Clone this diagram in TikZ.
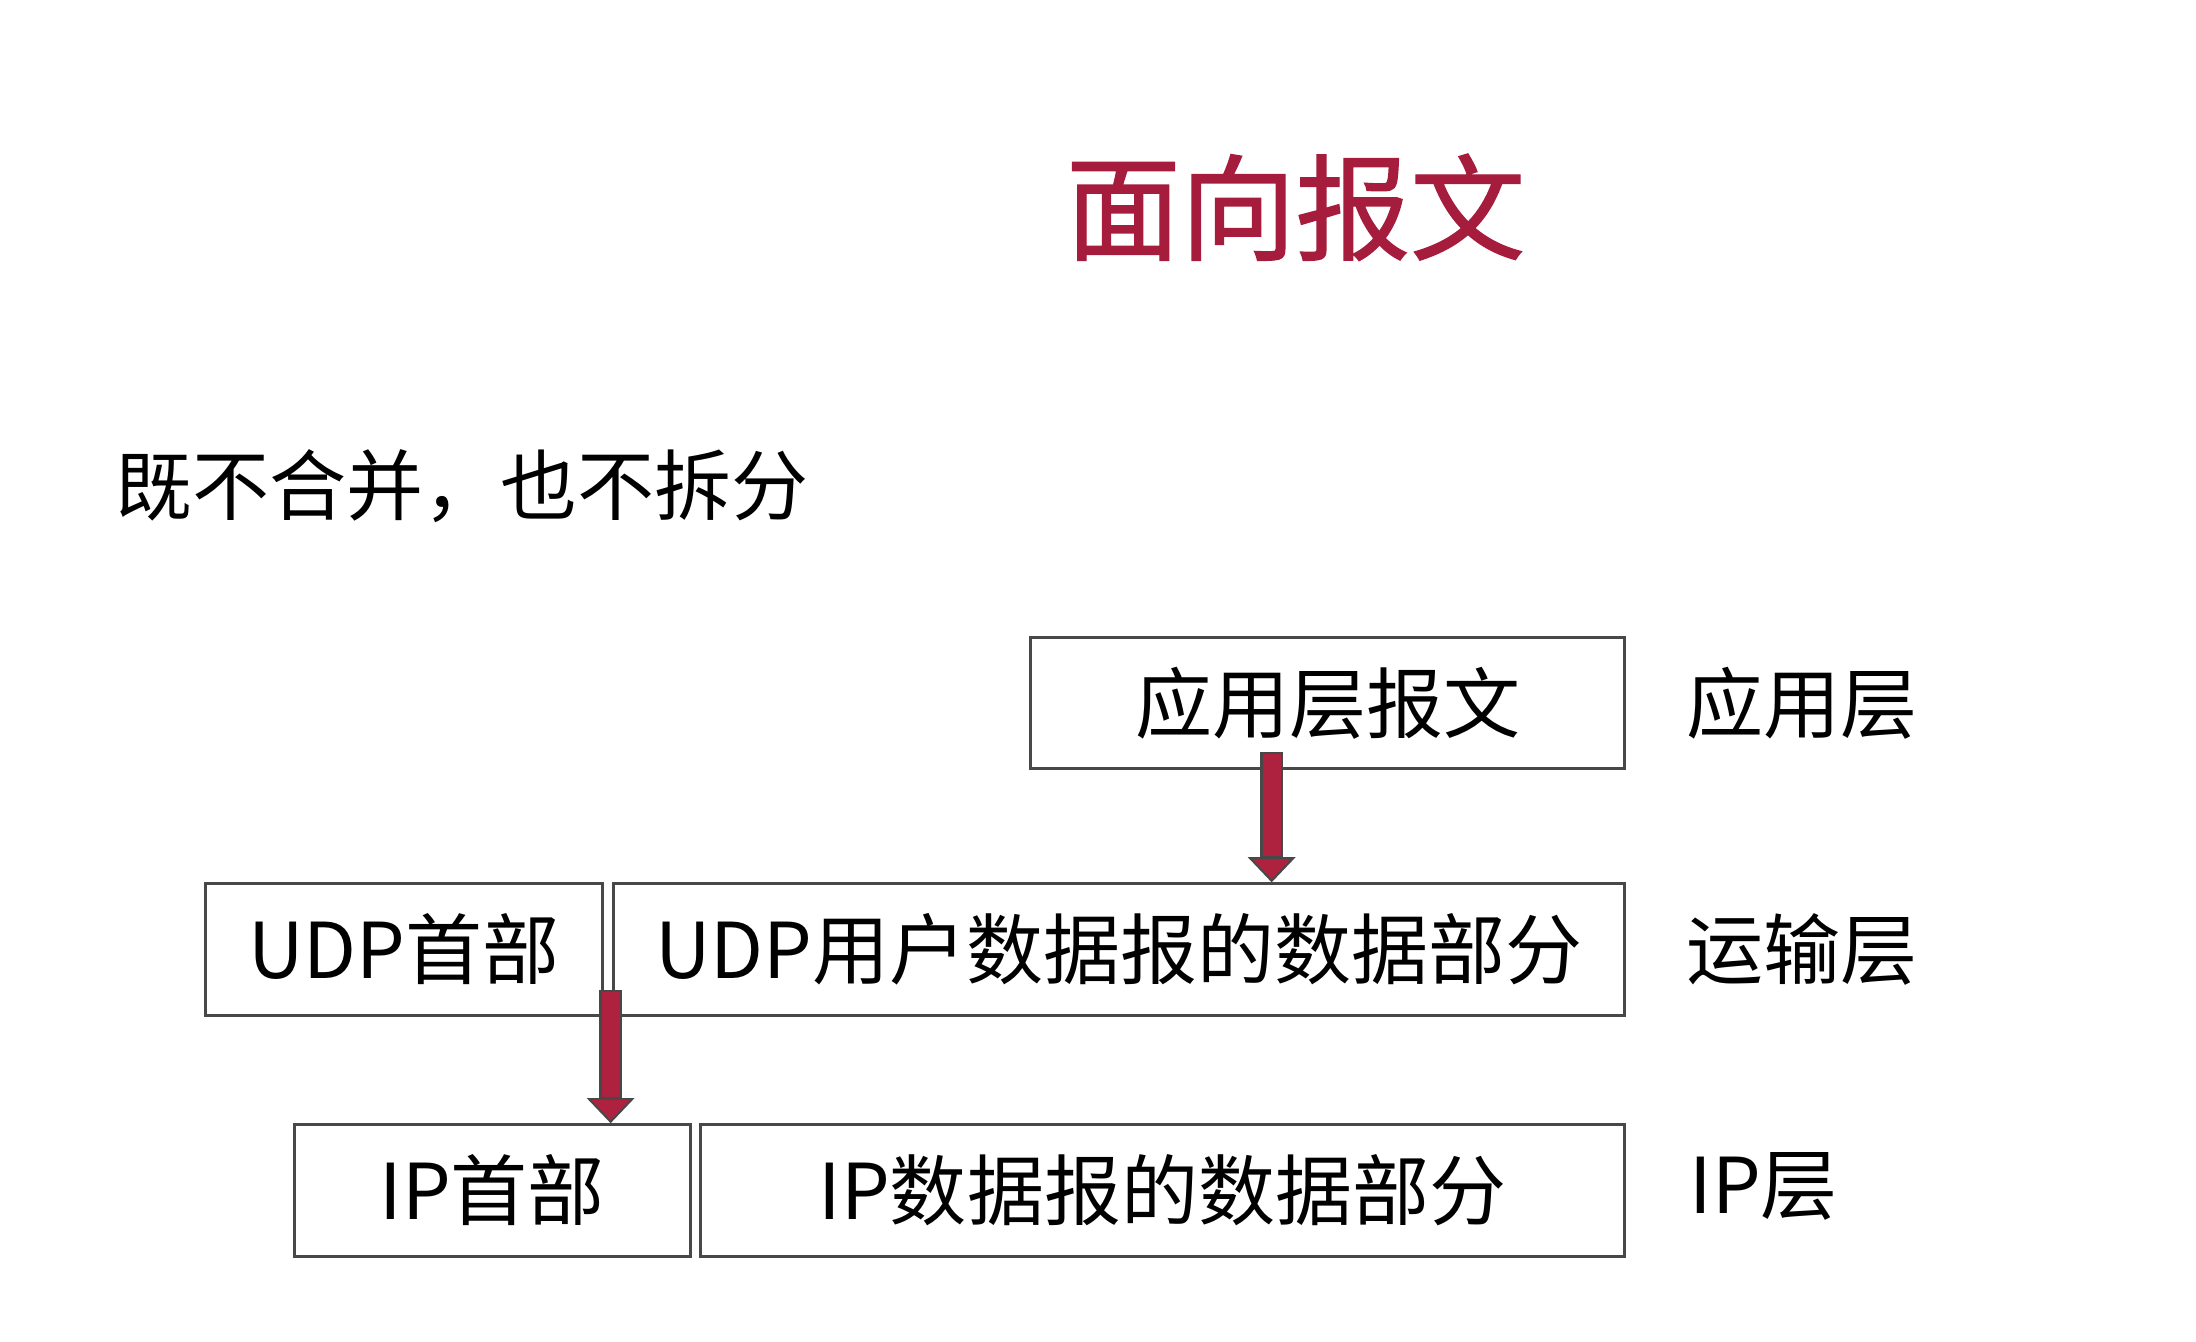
\documentclass[tikz,border=0pt]{standalone}
\usepackage{fontspec}
\setmainfont{Noto Sans CJK SC}
\newfontfamily\titlefont[FakeBold=1.2]{Noto Sans CJK SC}
\usepackage{tikz}
\usepackage{xcolor}
\usetikzlibrary{arrows.meta}

\definecolor{titlered}{RGB}{166,28,60}
\definecolor{arrowred}{RGB}{174,34,64}
\definecolor{boxgray}{RGB}{72,72,72}

\begin{document}
\begin{tikzpicture}[x=0.5pt,y=-0.5pt]
      \useasboundingbox(0,0) rectangle (1568,958);
      \tikzset{B/.style = {shape=rectangle, draw=boxgray, line width=1pt, minimum height=47pt, inner sep=0pt, text=black, font=\fontsize{27.5}{33}\selectfont}}
      \tikzset{L/.style = {anchor=west, inner sep=0pt, text=black, font=\fontsize{27.5}{33}\selectfont}}
      \tikzset{Aout/.style = {draw=boxgray, line width=8pt, -{Triangle[width=17pt,length=9pt,fill=arrowred,line width=0.7pt]}}}
      \tikzset{Ain/.style = {draw=arrowred, line width=6.4pt, shorten >=9.5pt, shorten <=0.7pt}}
      \node[text=titlered,font=\titlefont\fontsize{41}{48}\selectfont](title) at (925,148) {面向报文};
      \node[L](sub) at (82,347) {既不合并，也不拆分};
      \node[B,minimum width=212pt](app) at (948,502) {应用层报文};
      \node[B,minimum width=141.5pt](udph) at (288.5,678) {UDP首部};
      \node[B,minimum width=361pt](udpd) at (799,678) {UDP用户数据报的数据部分};
      \node[B,minimum width=141.5pt](iph) at (351.5,850) {IP首部};
      \node[B,minimum width=330pt](ipd) at (830,850) {IP数据报的数据部分};
      \node[L](lapp) at ([xshift=21.5pt]app.east) {应用层};
      \node[L](ludp) at ([xshift=21.5pt]udpd.east) {运输层};
      \node[L](lip) at ([xshift=22.5pt,yshift=1.5pt]ipd.east) {IP层};
      % arrows between the layers
      \coordinate (a1) at ([xshift=-20pt,yshift=6.5pt]app.south);
      \coordinate (a2) at ([xshift=2.5pt,yshift=9.5pt]udph.south east);
      \draw[Aout](a1) to (a1 |- udpd.north);
      \draw[Ain](a1) to (a1 |- udpd.north);
      \draw[Aout](a2) to (a2 |- iph.north);
      \draw[Ain](a2) to (a2 |- iph.north);
\end{tikzpicture}
\end{document}
